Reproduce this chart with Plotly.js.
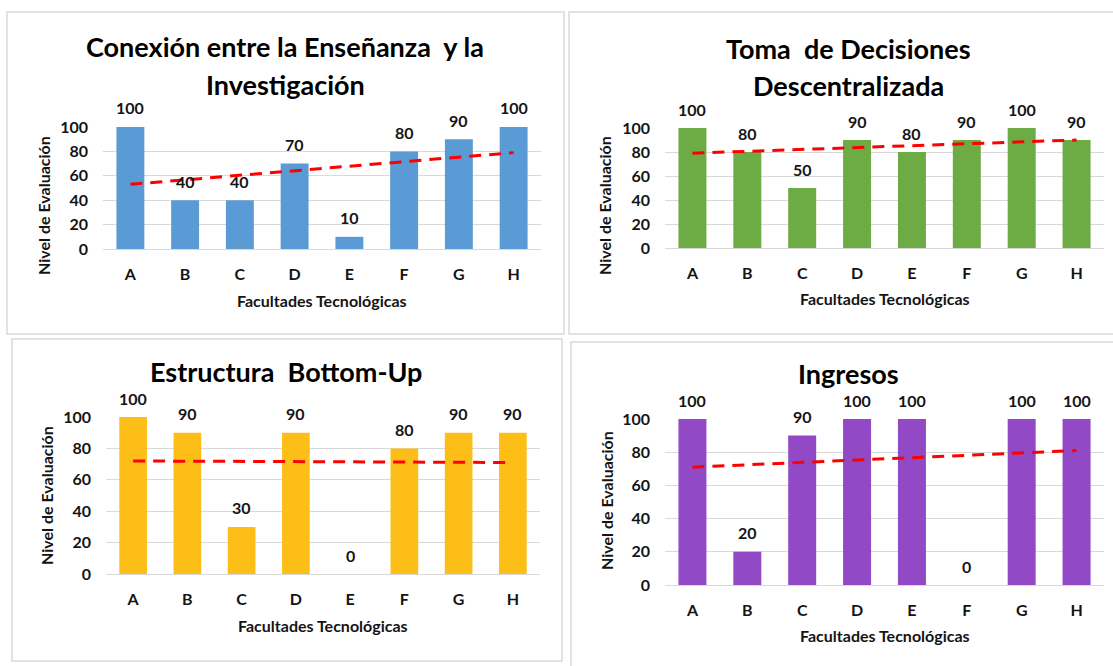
<!DOCTYPE html>
<html>
<head>
<meta charset="utf-8">
<script src="https://cdn.plot.ly/plotly-3.0.1.min.js"></script>
<style>html,body{margin:0;padding:0;background:#fff;}#chart{width:1113px;height:666px;}</style>
</head>
<body>
<div id="chart"></div>
<script>
// ---- data ----
const categories = ['A','B','C','D','E','F','G','H'];
const conexionValues = [100, 40, 40, 70, 10, 80, 90, 100];
const decisionesValues = [100, 80, 50, 90, 80, 90, 100, 90];
const bottomUpValues = [100, 90, 30, 90, 0, 80, 90, 90];
const ingresosValues = [100, 20, 90, 100, 100, 0, 100, 100];
// trend line end points (at A and H)
const trendCats = ['A','H'];
const conexionTrend = [53, 79];
const decisionesTrend = [79, 90];
const bottomUpTrend = [72, 71];
const ingresosTrend = [71, 81];
const yTicks = [0, 20, 40, 60, 80, 100];
const titleConexion = ['Conexión entre la Enseñanza\u00a0 y la', 'Investigación'];
const titleDecisiones = ['Toma\u00a0 de Decisiones', 'Descentralizada'];
const titleBottomUp = ['Estructura\u00a0 Bottom-Up'];
const titleIngresos = ['Ingresos'];
const xTitle = 'Facultades Tecnológicas';
const yTitle = 'Nivel de Evaluación';

// ---- layout helpers ----
const W = 1113, H = 666;
const px = x => x / W;
const py = y => 1 - y / H;
const FONT = 'Lato, "Open Sans", "DejaVu Sans", sans-serif';
const TXT = '#141414';

const panels = [
  {values: conexionValues, trend: conexionTrend, title: titleConexion, color: '#5b9bd5',
   plot: [103, 541, 127, 249], border: [7, 564, 12, 334], titleX: 285, titleY: [46, 85],
   xTitleY: 300, yTitleX: 43, yTitleY: 206},
  {values: decisionesValues, trend: decisionesTrend, title: titleDecisiones, color: '#6dab45',
   plot: [665, 1104, 128, 248], border: [569, 1125, 12, 334], titleX: 848, titleY: [48, 86],
   xTitleY: 299, yTitleX: 604, yTitleY: 206},
  {values: bottomUpValues, trend: bottomUpTrend, title: titleBottomUp, color: '#fdbf17',
   plot: [106, 540, 417, 574], border: [12, 562, 339, 661], titleX: 286, titleY: [372],
   xTitleY: 625, yTitleX: 46, yTitleY: 496},
  {values: ingresosValues, trend: ingresosTrend, title: titleIngresos, color: '#9149c6',
   plot: [665, 1104, 419, 585], border: [571, 1125, 342, 680], titleX: 848, titleY: [373],
   xTitleY: 635, yTitleX: 606, yTitleY: 501}
];

const data = [];
const layout = {
  width: W, height: H,
  margin: {l: 0, r: 0, t: 0, b: 0},
  paper_bgcolor: '#ffffff', plot_bgcolor: '#ffffff',
  showlegend: false,
  bargap: 0.49,
  font: {family: FONT, color: TXT, size: 16, weight: 'bold'},
  annotations: [], shapes: []
};

panels.forEach((p, i) => {
  const n = i === 0 ? '' : String(i + 1);
  const xa = 'x' + n, ya = 'y' + n;
  data.push({
    type: 'bar', x: categories, y: p.values, xaxis: xa, yaxis: ya,
    marker: {color: p.color, line: {width: 0}}, hoverinfo: 'x+y'
  });
  data.push({
    type: 'scatter', mode: 'lines', x: trendCats, y: p.trend, xaxis: xa, yaxis: ya,
    line: {color: '#ff0000', width: 3, dash: '12px,8px'}, hoverinfo: 'skip'
  });
  layout['xaxis' + n] = {
    domain: [px(p.plot[0]), px(p.plot[1])], anchor: ya,
    type: 'category', categoryorder: 'array', categoryarray: categories,
    range: [-0.5, 7.5], showgrid: false, zeroline: false, showline: false,
    ticks: '', ticklabelstandoff: 14, fixedrange: true,
    tickfont: {family: FONT, size: 16, color: TXT, weight: 'bold'}
  };
  layout['yaxis' + n] = {
    domain: [py(p.plot[3]), py(p.plot[2])], anchor: xa,
    range: [0, 100], tickvals: yTicks, showgrid: true, gridcolor: '#d9d9d9', gridwidth: 1,
    zeroline: true, zerolinecolor: '#d9d9d9', zerolinewidth: 1, showline: false,
    ticks: '', ticklabelstandoff: 14, fixedrange: true,
    tickfont: {family: FONT, size: 16, color: TXT, weight: 'bold'}
  };
  // panel border
  layout.shapes.push({type: 'rect', xref: 'paper', yref: 'paper',
    x0: px(p.border[0]), x1: px(p.border[1]), y0: py(p.border[3]), y1: py(p.border[2]),
    line: {color: '#d9d9d9', width: 1.5}, fillcolor: 'rgba(0,0,0,0)', layer: 'below'});
  // titles
  p.title.forEach((line, k) => {
    layout.annotations.push({xref: 'paper', yref: 'paper', x: px(p.titleX), y: py(p.titleY[k]),
      xanchor: 'center', yanchor: 'middle', showarrow: false, text: line,
      font: {family: FONT, size: 27, color: '#000000', weight: 'bold'}});
  });
  // data labels
  categories.forEach((c, j) => {
    layout.annotations.push({xref: xa, yref: ya, x: c, y: p.values[j], yshift: 19,
      xanchor: 'center', yanchor: 'middle', showarrow: false, text: String(p.values[j]),
      font: {family: FONT, size: 16, color: TXT, weight: 'bold'}});
  });
  // axis titles
  layout.annotations.push({xref: 'paper', yref: 'paper', x: px((p.plot[0] + p.plot[1]) / 2), y: py(p.xTitleY),
    xanchor: 'center', yanchor: 'middle', showarrow: false, text: xTitle,
    font: {family: FONT, size: 16, color: TXT, weight: 'bold'}});
  layout.annotations.push({xref: 'paper', yref: 'paper', x: px(p.yTitleX), y: py(p.yTitleY),
    xanchor: 'center', yanchor: 'middle', showarrow: false, text: yTitle, textangle: -90,
    font: {family: FONT, size: 16, color: TXT, weight: 'bold'}});
});

Plotly.newPlot('chart', data, layout, {displayModeBar: false, staticPlot: true});
</script>
</body>
</html>
